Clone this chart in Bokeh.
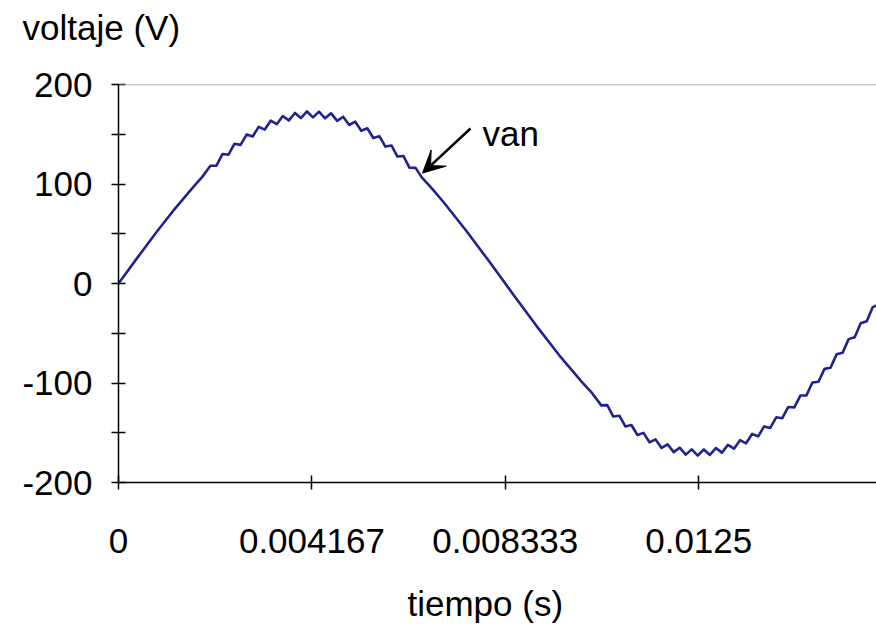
from bokeh.plotting import figure
from bokeh.models import (Range1d, FixedTicker, Span, Label, Arrow, VeeHead,
                          ColumnDataSource, Title, LinearAxis)
from bokeh.embed import file_html
from bokeh.resources import INLINE

# ---- data ----
# time (s) and phase voltage van (V)
t_rise = [0.0, 0.0004, 0.0008, 0.0012, 0.0016, 0.0018]
v_rise = [0.0, 25.5, 50.5, 74.3, 96.4, 106.9]

t_peak = [0.00198, 0.00211, 0.00224, 0.00237, 0.00250, 0.00263, 0.00276, 0.00289,
          0.00302, 0.00315, 0.00328, 0.00341, 0.00354, 0.00367, 0.00380, 0.00393,
          0.00406, 0.00419, 0.00432, 0.00445, 0.00458, 0.00471, 0.00484, 0.00497,
          0.00510, 0.00523, 0.00536, 0.00549, 0.00562, 0.00575, 0.00588, 0.00601,
          0.00614, 0.00627, 0.00640, 0.00653]
v_peak = [118.4, 118.4, 130.1, 129.5, 140.5, 139.3, 149.7, 147.7,
          157.4, 154.7, 163.6, 160.1, 168.3, 164.0, 171.4, 166.3,
          172.9, 167.0, 172.7, 166.0, 171.0, 163.4, 167.6, 159.3,
          162.6, 153.5, 156.0, 146.2, 148.1, 137.6, 138.7, 127.6,
          128.1, 116.3, 116.2, 106.9]

t_fall = [0.00675, 0.0070, 0.0075, 0.0080, 0.0085, 0.0090, 0.0095, 0.0100, 0.0102]
v_fall = [95.6, 81.9, 52.5, 21.3, -10.7, -42.3, -72.4, -99.9, -110.0]

t_valley = [0.01040, 0.01053, 0.01066, 0.01079, 0.01092, 0.01105, 0.01118, 0.01131,
            0.01144, 0.01157, 0.01170, 0.01183, 0.01196, 0.01209, 0.01222, 0.01235,
            0.01248, 0.01261, 0.01274, 0.01287, 0.01300, 0.01313, 0.01326, 0.01339,
            0.01352, 0.01365, 0.01378, 0.01391, 0.01404, 0.01417, 0.01430, 0.01443,
            0.01456, 0.01469, 0.01482, 0.01495, 0.01508, 0.01521, 0.01534, 0.01547,
            0.01560, 0.01573, 0.01586, 0.01599, 0.01612, 0.01625, 0.01638]
v_valley = [-122.5, -122.2, -133.7, -132.9, -143.7, -142.2, -152.3, -150.1,
            -159.6, -156.7, -165.3, -161.6, -169.5, -165.0, -172.0, -166.7,
            -173.0, -166.8, -172.3, -165.4, -170.0, -162.2, -166.0, -157.5,
            -160.6, -151.2, -153.6, -143.6, -145.2, -134.5, -135.4, -124.1,
            -124.5, -112.6, -112.4, -99.5, -98.8, -85.8, -84.6, -71.2,
            -69.6, -55.9, -54.0, -40.0, -37.9, -23.7, -21.0]

x_ticks = [0.0, 0.004167, 0.008333, 0.0125]
x_tick_labels = ["0", "0.004167", "0.008333", "0.0125"]
y_ticks = [-200, -100, 0, 100, 200]
y_minor_ticks = [-150, -50, 50, 150]
y_tick_labels = ["-200", "-100", "0", "100", "200"]

series_name = "van"
x_title = "tiempo (s)"
y_title = "voltaje (V)"

tiempo = t_rise + t_peak + t_fall + t_valley
van = v_rise + v_peak + v_fall + v_valley

# ---- figure ----
FONT = "Liberation Sans"
FS = "35px"

p = figure(width=876, height=628, output_backend="svg", toolbar_location=None,
           x_range=Range1d(0, 0.01633), y_range=Range1d(-200, 200),
           min_border_left=118, min_border_right=0, min_border_top=84,
           min_border_bottom=146)
p.grid.visible = False
p.outline_line_color = None
p.background_fill_color = "white"
p.border_fill_color = "white"

src = ColumnDataSource(dict(t=tiempo, v=van))
p.line("t", "v", source=src, line_color="#22228c", line_width=2.6, line_join="round")

# top grey border
p.add_layout(Span(location=200, dimension="width", line_color="#9a9a9a", line_width=1.5))

# x axis
xa = p.xaxis[0]
xa.ticker = FixedTicker(ticks=x_ticks)
xa.major_label_overrides = {tk: lb for tk, lb in zip(x_ticks, x_tick_labels)}
xa.major_tick_in = 7
xa.major_tick_out = 7
xa.minor_tick_in = 0
xa.minor_tick_out = 0
xa.axis_line_color = "black"
xa.axis_line_width = 1.5
xa.major_tick_line_color = "black"
xa.major_tick_line_width = 1.5
xa.major_label_text_font = FONT
xa.major_label_text_font_size = FS
xa.major_label_text_color = "black"
xa.major_label_standoff = 39

# y axis
ya = p.yaxis[0]
ya.ticker = FixedTicker(ticks=y_ticks, minor_ticks=y_minor_ticks)
ya.major_label_overrides = {tk: lb for tk, lb in zip(y_ticks, y_tick_labels)}
ya.major_tick_in = 7
ya.major_tick_out = 7
ya.minor_tick_in = 7
ya.minor_tick_out = 7
ya.axis_line_color = "black"
ya.axis_line_width = 1.5
ya.major_tick_line_color = "black"
ya.minor_tick_line_color = "black"
ya.major_tick_line_width = 1.5
ya.minor_tick_line_width = 1.5
ya.major_label_text_font = FONT
ya.major_label_text_font_size = FS
ya.major_label_text_color = "black"
ya.major_label_standoff = 19


def spacer(depth):
    # an invisible axis (one hidden tick, no line, no label) that only reserves room
    mid = x_ticks[2]
    return LinearAxis(ticker=FixedTicker(ticks=[mid]), axis_line_color=None,
                      major_tick_line_color=None, minor_tick_line_color=None,
                      major_tick_in=0, major_tick_out=depth, minor_tick_in=0,
                      minor_tick_out=0, major_label_standoff=0,
                      major_label_text_font_size="0px", major_label_text_color=None,
                      major_label_overrides={mid: ""})


# title of the vertical axis, above the plot area
p.add_layout(spacer(38), "above")
p.add_layout(Title(text=y_title, align="left", offset=-96, standoff=0,
                   text_font=FONT, text_font_size=FS, text_font_style="normal",
                   text_color="black"), "above")

# title of the horizontal axis, below the tick labels
p.add_layout(spacer(26), "below")
p.add_layout(Title(text=x_title, align="left", offset=289, standoff=0,
                   text_font=FONT, text_font_size=FS, text_font_style="normal",
                   text_color="black"), "below")

# annotation "van" with arrow
p.add_layout(Label(x=0.007842, y=150.8, text=series_name, text_font=FONT,
                   text_font_size=FS, text_color="black", text_baseline="alphabetic",
                   text_align="left"))
p.add_layout(Arrow(end=VeeHead(size=22, fill_color="black", line_color="black"),
                   x_start=0.007584, y_start=155.8, x_end=0.00655, y_end=111.0,
                   line_color="black", line_width=2.5))

open("out.html", "w").write(file_html(p, INLINE))
